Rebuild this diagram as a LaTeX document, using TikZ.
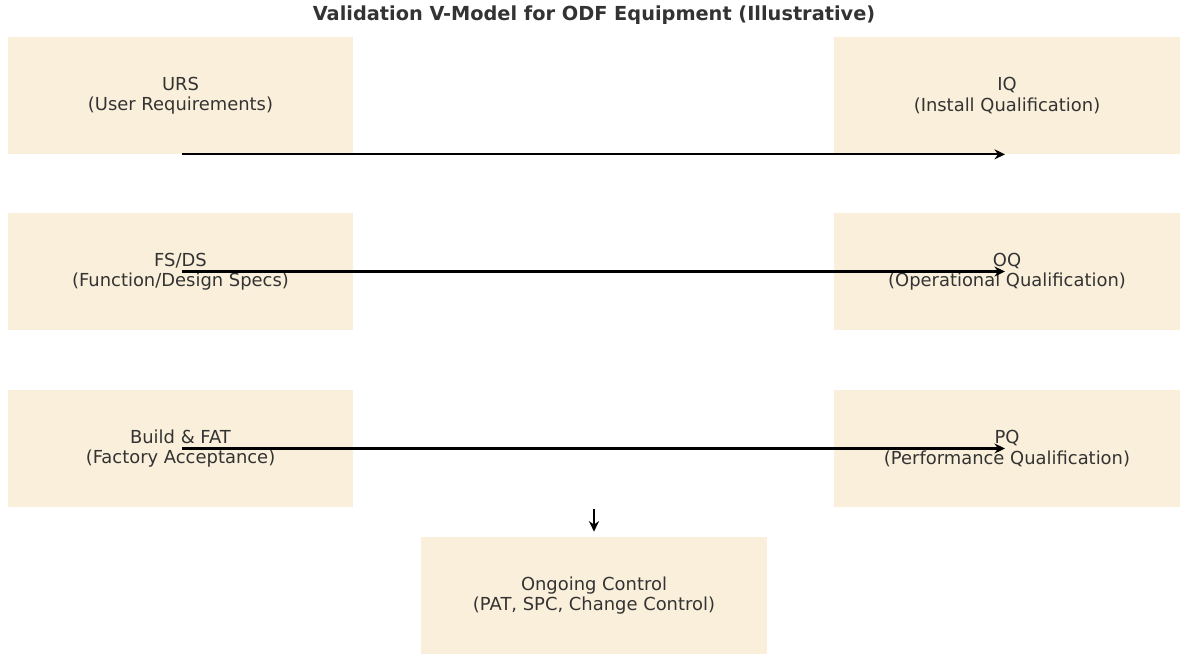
\documentclass[tikz,border=0pt]{standalone}
\usepackage{fontspec}
\setmainfont{DejaVu Sans}
\usetikzlibrary{arrows.meta}
\definecolor{stagefill}{HTML}{FAEFDA}
\definecolor{inkgray}{HTML}{333333}
\tikzset{
	stage/.style={fill=stagefill, text=inkgray, minimum width=6.92cm, minimum height=2.34cm, align=center, inner sep=0pt, font=\fontsize{10.2}{11.6}\selectfont},
	link/.style={-{Stealth[length=2.1mm,width=2mm]}, line width=1.2pt, black, shorten >=0.04cm, shorten <=0.03cm}
}
\begin{document}
\begin{tikzpicture}[x=0.02cm,y=-0.02cm]
			\useasboundingbox (0,0) rectangle (1191,664);
			\node[text=inkgray, font=\bfseries\fontsize{11}{13}\selectfont] (title) at (594,15) {Validation V-Model for ODF Equipment (Illustrative)};

			% left leg
			\node[stage] (urs) at (180.5,95.5) {URS\\(User Requirements)};
			\node[stage] (fsds) at (180.5,271.5) {FS/DS\\(Function/Design Specs)};
			\node[stage] (fat) at (180.5,448.5) {Build \& FAT\\(Factory Acceptance)};

			% right leg
			\node[stage] (iq) at (1007,95.5) {IQ\\(Install Qualification)};
			\node[stage] (oq) at (1007,271.5) {OQ\\(Operational Qualification)};
			\node[stage] (pq) at (1007,448.5) {PQ\\(Performance Qualification)};

			\node[stage] (ongoing) at (594,595.5) {Ongoing Control\\(PAT, SPC, Change Control)};
			\coordinate (feed) at (594,507.5);

			\draw[link] (urs.south) -- (iq.south);
			\draw[link] (fsds.center) -- (oq.center);
			\draw[link] (fat.center) -- (pq.center);
			\draw[link] (feed) -- ([yshift=0.06cm]ongoing.north);
\end{tikzpicture}
\end{document}
